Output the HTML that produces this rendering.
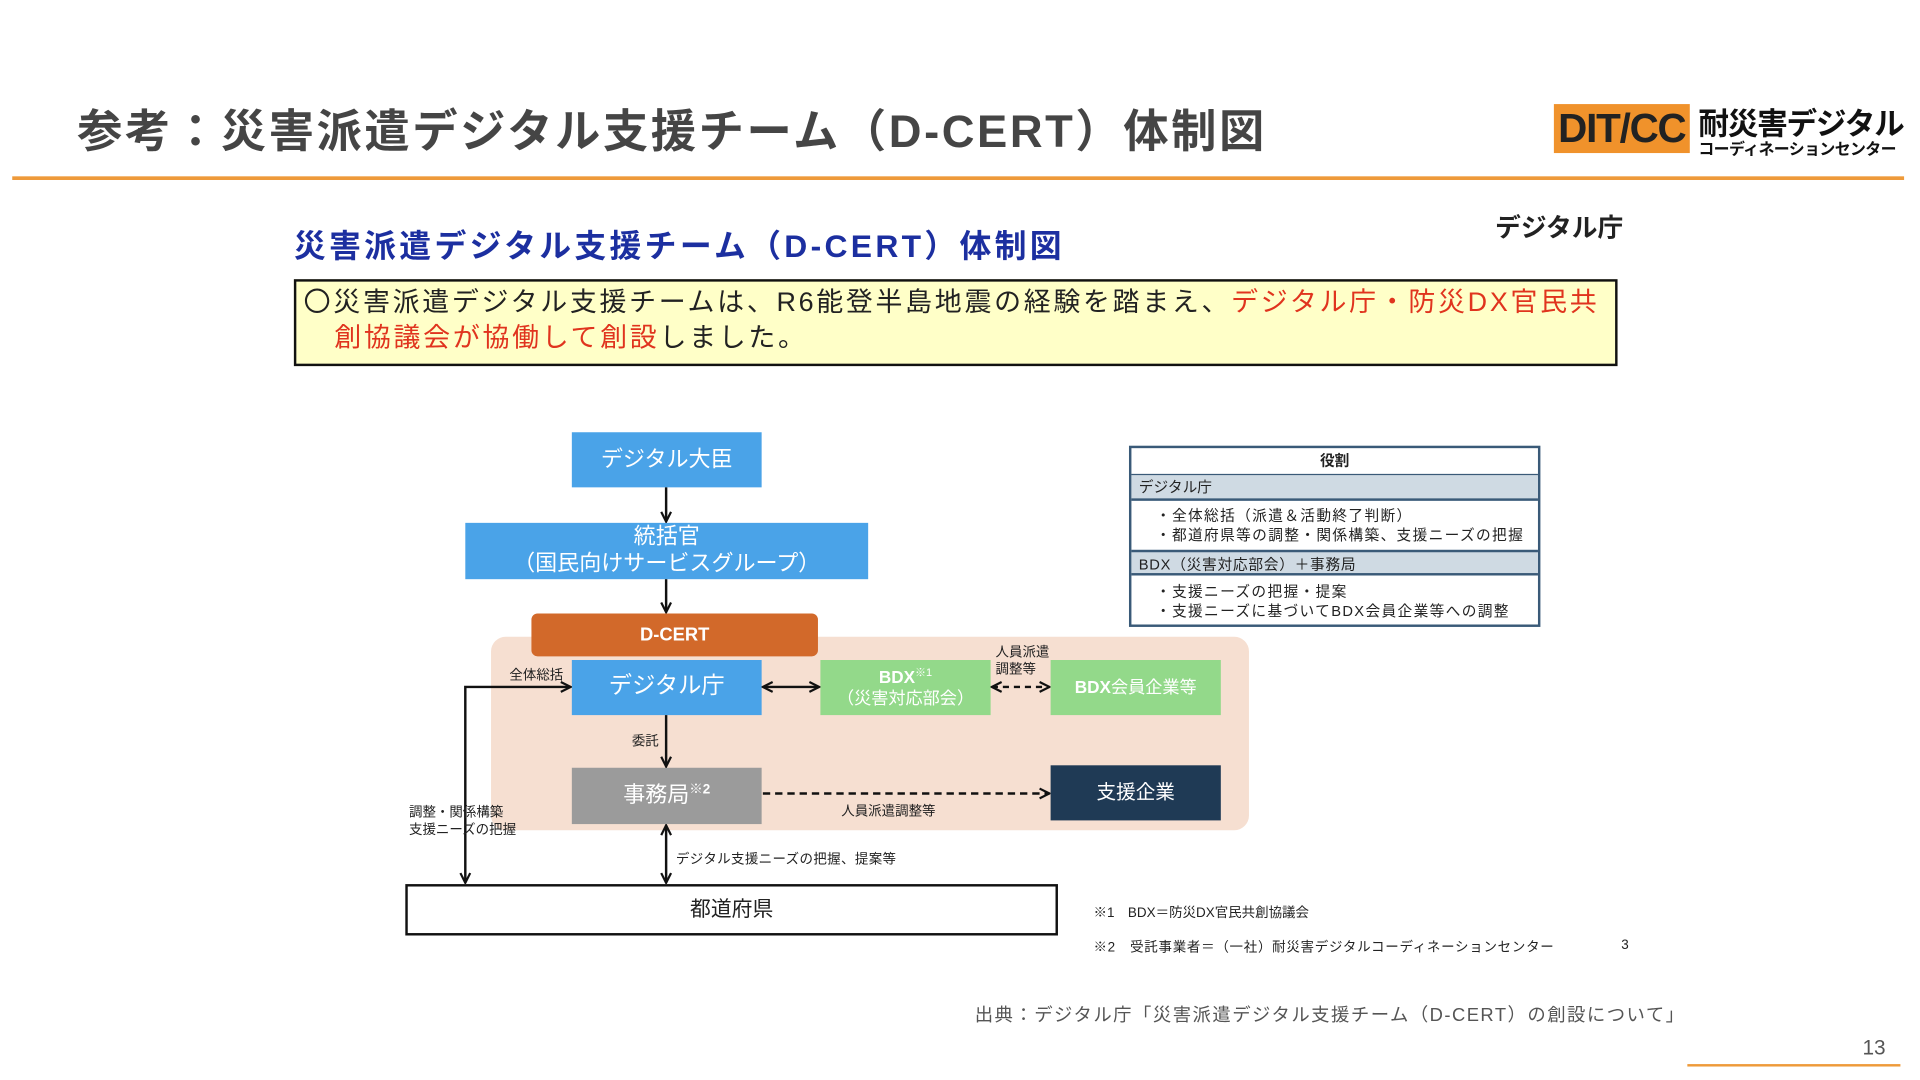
<!DOCTYPE html>
<html><head><meta charset="utf-8"><style>
html,body{margin:0;padding:0;width:1920px;height:1080px;overflow:hidden;background:#fff;}
#s{position:absolute;left:0;top:0;width:1568px;height:882px;transform:scale(1.22449);transform-origin:0 0;font-family:"Liberation Sans","Noto Sans CJK JP",sans-serif;}
.a{position:absolute;white-space:nowrap;}
.bx{position:absolute;display:flex;align-items:center;justify-content:center;text-align:center;color:#fff;line-height:1.2;}
</style></head><body><div id="s">
<div class="a" style="left:63px;top:77px;font-size:37px;font-weight:bold;color:#454545;letter-spacing:2.1px;">参考：災害派遣デジタル支援チーム（D-CERT）体制図</div>
<div class="a" style="left:10px;top:144px;width:1545px;height:3px;background:#EE9A3A;"></div>
<div class="a" style="left:1269px;top:85px;width:111px;height:40px;background:#F0922B;color:#222;font-weight:bold;font-size:33px;line-height:40px;text-align:center;letter-spacing:-1px;">DIT/CC</div>
<div class="a" style="left:1387px;top:82px;font-size:25px;font-weight:bold;color:#111;letter-spacing:-1px;">耐災害デジタル</div>
<div class="a" style="left:1387px;top:111px;font-size:13px;font-weight:bold;color:#111;letter-spacing:-0.5px;">コーディネーションセンター</div>

<div class="a" style="left:240px;top:181px;font-size:26px;font-weight:bold;color:#1C2FA0;letter-spacing:2.7px;">災害派遣デジタル支援チーム（D-CERT）体制図</div>
<div class="a" style="left:1221px;top:170px;font-size:21px;font-weight:bold;color:#222;">デジタル庁</div>
<div class="a" style="left:240px;top:228px;width:1077px;height:67px;background:#FFFFC8;border:2px solid #111;"></div>
<div class="a" style="left:248px;top:232px;font-size:22px;color:#222;line-height:29px;letter-spacing:2.2px;">〇災害派遣デジタル支援チームは、R6能登半島地震の経験を踏まえ、<span style="color:#E0341E">デジタル庁・防災DX官民共</span><br><span style="display:inline-block;width:25px"></span><span style="color:#E0341E">創協議会が協働して創設</span>しました。</div>

<div class="a" style="left:401px;top:520px;width:619px;height:158px;background:#F6DFD1;border-radius:12px;"></div>
<div class="bx" style="left:467px;top:353px;width:155px;height:45px;background:#4AA3E8;font-size:18px;">デジタル大臣</div>
<div class="bx" style="left:380px;top:427px;width:329px;height:46px;background:#4AA3E8;font-size:18px;">統括官<br>（国民向けサービスグループ）</div>
<div class="bx" style="left:434px;top:501px;width:234px;height:35px;background:#D2692A;border-radius:5px;font-size:15px;font-weight:bold;">D-CERT</div>
<div class="bx" style="left:467px;top:539px;width:155px;height:45px;background:#4AA3E8;font-size:19px;">デジタル庁</div>
<div class="bx" style="left:670px;top:539px;width:139px;height:45px;background:#93D98A;font-size:14px;"><div><b>BDX</b><sup style="font-size:9px">※1</sup><br>（災害対応部会）</div></div>
<div class="bx" style="left:858px;top:539px;width:139px;height:45px;background:#93D98A;font-size:14px;"><span><b>BDX</b>会員企業等</span></div>
<div class="bx" style="left:467px;top:627px;width:155px;height:46px;background:#9B9B9B;font-size:18px;"><span>事務局<sup style="font-size:11px;font-weight:bold">※2</sup></span></div>
<div class="bx" style="left:858px;top:625px;width:139px;height:45px;background:#1F3A55;font-size:16px;">支援企業</div>
<div class="bx" style="left:331px;top:722px;width:529px;height:38px;background:#fff;border:2px solid #111;color:#222;font-size:17px;">都道府県</div>

<svg class="a" style="left:0;top:0" width="1568" height="882">
<defs><marker id="m" markerWidth="10" markerHeight="10" refX="9" refY="5" orient="auto-start-reverse" markerUnits="userSpaceOnUse"><path d="M1,1 L9,5 L1,9" fill="none" stroke="#111" stroke-width="1.8"/></marker></defs>
<g stroke="#111" stroke-width="2" fill="none">
<line x1="544" y1="398" x2="544" y2="426" marker-end="url(#m)"/>
<line x1="544" y1="473" x2="544" y2="500" marker-end="url(#m)"/>
<line x1="544" y1="584" x2="544" y2="626" marker-end="url(#m)"/>
<line x1="623" y1="561" x2="669" y2="561" marker-start="url(#m)" marker-end="url(#m)"/>
<line x1="810" y1="561" x2="857" y2="561" stroke-dasharray="5,4" marker-start="url(#m)" marker-end="url(#m)"/>
<line x1="623" y1="648" x2="857" y2="648" stroke-dasharray="6,4" marker-end="url(#m)"/>
<line x1="544" y1="674" x2="544" y2="721" marker-start="url(#m)" marker-end="url(#m)"/>
<polyline points="380,721 380,561 466,561" marker-start="url(#m)" marker-end="url(#m)"/>
</g></svg>
<div class="a" style="left:416px;top:543px;font-size:11px;color:#222;">全体総括</div>
<div class="a" style="left:516px;top:597px;font-size:11px;color:#222;">委託</div>
<div class="a" style="left:813px;top:526px;font-size:11px;color:#222;line-height:14px;">人員派遣<br>調整等</div>
<div class="a" style="left:687px;top:654px;font-size:11px;color:#222;">人員派遣調整等</div>
<div class="a" style="left:552px;top:693px;font-size:11px;color:#222;letter-spacing:0.3px;">デジタル支援ニーズの把握、提案等</div>
<div class="a" style="left:334px;top:657px;font-size:11px;color:#222;line-height:14px;">調整・関係構築<br>支援ニーズの把握</div>

<div class="a" style="left:922px;top:364px;width:332px;height:144px;border:2px solid #3A5A78;background:#fff;"></div>
<div class="a" style="left:924px;top:365px;width:332px;height:22px;border-bottom:2px solid #3A5A78;font-size:12px;font-weight:bold;text-align:center;line-height:22px;color:#222;">役割</div>
<div class="a" style="left:924px;top:388px;width:332px;height:21px;background:#CFDAE3;border-bottom:2px solid #3A5A78;font-size:12px;line-height:21px;padding-left:6px;box-sizing:border-box;color:#222;">デジタル庁</div>
<div class="a" style="left:944px;top:413px;font-size:12px;line-height:16px;color:#222;letter-spacing:1.1px;">・全体総括（派遣＆活動終了判断）<br>・都道府県等の調整・関係構築、支援ニーズの把握</div>
<div class="a" style="left:924px;top:449px;width:332px;height:21px;background:#CFDAE3;border-top:2px solid #3A5A78;border-bottom:2px solid #3A5A78;font-size:12px;line-height:21px;padding-left:6px;box-sizing:border-box;color:#222;letter-spacing:0.6px;">BDX（災害対応部会）＋事務局</div>
<div class="a" style="left:944px;top:475px;font-size:12px;line-height:16px;color:#222;letter-spacing:1.1px;">・支援ニーズの把握・提案<br>・支援ニーズに基づいてBDX会員企業等への調整</div>

<div class="a" style="left:893px;top:737px;font-size:11px;color:#222;">※1　BDX＝防災DX官民共創協議会</div>
<div class="a" style="left:893px;top:765px;font-size:11px;color:#222;letter-spacing:0.6px;">※2　受託事業者＝（一社）耐災害デジタルコーディネーションセンター</div>
<div class="a" style="left:1324px;top:766px;font-size:11px;color:#222;">3</div>
<div class="a" style="left:796px;top:818px;font-size:15px;color:#555;letter-spacing:1.2px;">出典：デジタル庁「災害派遣デジタル支援チーム（D-CERT）の創設について」</div>
<div class="a" style="left:1521px;top:846px;font-size:17px;color:#555;">13</div>
<div class="a" style="left:1378px;top:869px;width:174px;height:2px;background:#EE9A3A;"></div>
</div></body></html>
